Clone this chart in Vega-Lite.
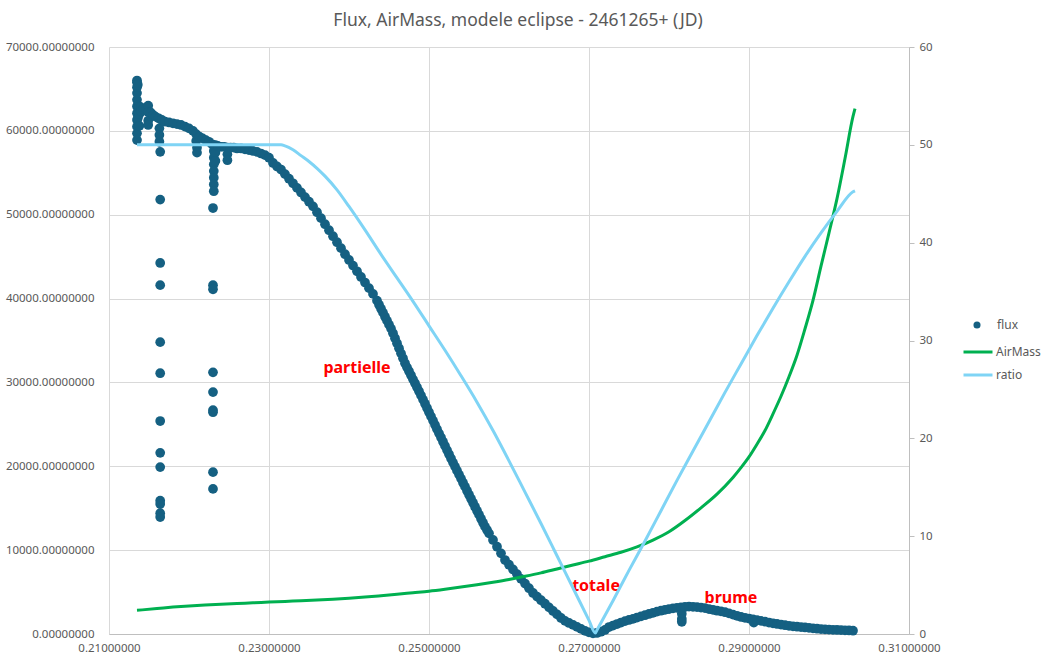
{
  "$schema": "https://vega.github.io/schema/vega-lite/v6.json",
  "width": 800,
  "height": 587,
  "autosize": {"type": "none"},
  "padding": {"left": 109, "top": 47, "right": 136, "bottom": 28},
  "background": "white",
  "title": {"text": "Flux, AirMass, modele eclipse - 2461265+ (JD)", "font": "Noto Sans", "fontSize": 17.5, "fontWeight": "normal", "color": "#595959", "frame": "group", "anchor": "middle", "offset": 12, "dx": 9},
  "config": {"view": {"stroke": null}, "font": "Noto Sans"},
  "datasets": {
    "flux": [
      {"x":0.2135,"flux":58900},{"x":0.2135,"flux":59700},{"x":0.2135,"flux":60500},{"x":0.2135,"flux":61300},{"x":0.2135,"flux":62100},{"x":0.2135,"flux":62900},{"x":0.2135,"flux":63700},{"x":0.2135,"flux":64500},{"x":0.2135,"flux":65200},{"x":0.2135,"flux":65800},{"x":0.2135,"flux":66000},
      {"x":0.2136,"flux":65500},{"x":0.2136,"flux":63000},{"x":0.2136,"flux":61500},
      {"x":0.2138,"flux":62900},{"x":0.2138,"flux":62000},{"x":0.2138,"flux":60600},
      {"x":0.2140,"flux":62800},{"x":0.2140,"flux":62300},{"x":0.2143,"flux":62600},{"x":0.2146,"flux":62700},
      {"x":0.2149,"flux":63000},{"x":0.2149,"flux":62200},{"x":0.2149,"flux":61200},{"x":0.2149,"flux":60700},
      {"x":0.2152,"flux":62200},{"x":0.2155,"flux":61900},{"x":0.2158,"flux":61700},
      {"x":0.2162,"flux":61500},{"x":0.2163,"flux":60300},{"x":0.2163,"flux":59500},{"x":0.2163,"flux":58700},
      {"x":0.2164,"flux":57500},{"x":0.2164,"flux":51800},{"x":0.2164,"flux":44250},{"x":0.2164,"flux":41600},{"x":0.2164,"flux":34800},{"x":0.2164,"flux":31100},{"x":0.2164,"flux":25400},{"x":0.2164,"flux":21600},{"x":0.2164,"flux":19900},{"x":0.2164,"flux":15900},{"x":0.2164,"flux":15500},{"x":0.2164,"flux":14400},{"x":0.2164,"flux":13950},
      {"x":0.2166,"flux":61300},{"x":0.2170,"flux":61100},{"x":0.2175,"flux":61000},{"x":0.2180,"flux":60900},{"x":0.2185,"flux":60800},{"x":0.2190,"flux":60700},{"x":0.2195,"flux":60500},{"x":0.2200,"flux":60300},{"x":0.2205,"flux":60000},
      {"x":0.2209,"flux":59600},{"x":0.2209,"flux":58800},{"x":0.2210,"flux":58000},{"x":0.2210,"flux":57400},
      {"x":0.2213,"flux":59300},{"x":0.2217,"flux":59100},{"x":0.2221,"flux":58900},{"x":0.2225,"flux":58700},{"x":0.2229,"flux":58400},
      {"x":0.2231,"flux":57600},{"x":0.2231,"flux":56800},{"x":0.2231,"flux":56000},{"x":0.2231,"flux":55200},{"x":0.2231,"flux":54400},{"x":0.2231,"flux":53600},{"x":0.2231,"flux":52800},
      {"x":0.2230,"flux":50800},{"x":0.2230,"flux":41600},{"x":0.2230,"flux":41100},{"x":0.2230,"flux":31200},{"x":0.2230,"flux":28850},{"x":0.2230,"flux":26700},{"x":0.2230,"flux":26450},{"x":0.2230,"flux":19300},{"x":0.2230,"flux":17300},
      {"x":0.2233,"flux":58300},{"x":0.2233,"flux":57400},{"x":0.2233,"flux":56400},
      {"x":0.2236,"flux":58200},{"x":0.2240,"flux":58100},{"x":0.2244,"flux":58100},
      {"x":0.2248,"flux":58000},{"x":0.2248,"flux":57200},{"x":0.2248,"flux":56500},
      {"x":0.2252,"flux":58000},{"x":0.2256,"flux":58000},{"x":0.2260,"flux":57900},{"x":0.2265,"flux":57900},{"x":0.2270,"flux":57800},{"x":0.2275,"flux":57700},{"x":0.2280,"flux":57600},{"x":0.2285,"flux":57500},{"x":0.2290,"flux":57300},{"x":0.2295,"flux":57100},
      {"x":0.2300,"flux":56800},{"x":0.2305,"flux":56170},{"x":0.2310,"flux":55750},{"x":0.2315,"flux":55390},{"x":0.2320,"flux":54840},{"x":0.2325,"flux":54290},{"x":0.2330,"flux":53750},{"x":0.2335,"flux":53200},{"x":0.2340,"flux":52650},{"x":0.2345,"flux":52100},{"x":0.2350,"flux":51550},{"x":0.2355,"flux":51000},{"x":0.2360,"flux":50300},{"x":0.2365,"flux":49590},{"x":0.2370,"flux":48870},{"x":0.2375,"flux":48150},{"x":0.2380,"flux":47440},{"x":0.2385,"flux":46720},{"x":0.2390,"flux":46010},{"x":0.2395,"flux":45290},
      {"x":0.2400,"flux":44600},{"x":0.2405,"flux":43930},{"x":0.2410,"flux":43250},{"x":0.2415,"flux":42580},{"x":0.2420,"flux":41910},{"x":0.2425,"flux":41240},{"x":0.2430,"flux":40560},
      {"x":0.2435,"flux":39750},{"x":0.24375,"flux":39270},{"x":0.2440,"flux":38790},{"x":0.24425,"flux":38320},{"x":0.2445,"flux":37840},{"x":0.24475,"flux":37370},{"x":0.2450,"flux":36890},{"x":0.24525,"flux":36420},{"x":0.2455,"flux":35860},{"x":0.24575,"flux":35260},{"x":0.2460,"flux":34670},{"x":0.24625,"flux":34070},{"x":0.2465,"flux":33470},{"x":0.24675,"flux":32880},{"x":0.2470,"flux":32280},{"x":0.24725,"flux":31800},{"x":0.2475,"flux":31330},{"x":0.24775,"flux":30850},{"x":0.2480,"flux":30370},{"x":0.24825,"flux":29900},{"x":0.2485,"flux":29420},{"x":0.24875,"flux":28940},{"x":0.2490,"flux":28450},{"x":0.24925,"flux":27950},{"x":0.2495,"flux":27450},{"x":0.24975,"flux":26950},{"x":0.2500,"flux":26450},{"x":0.25025,"flux":25950},{"x":0.2505,"flux":25450},{"x":0.25075,"flux":24940},{"x":0.2510,"flux":24430},{"x":0.25125,"flux":23930},{"x":0.2515,"flux":23430},{"x":0.25175,"flux":22930},{"x":0.2520,"flux":22430},{"x":0.25225,"flux":21930},{"x":0.2525,"flux":21430},{"x":0.25275,"flux":20930},{"x":0.2530,"flux":20440},{"x":0.25325,"flux":19960},{"x":0.2535,"flux":19480},{"x":0.25375,"flux":19010},{"x":0.2540,"flux":18530},{"x":0.25425,"flux":18040},{"x":0.2545,"flux":17570},{"x":0.25475,"flux":17090},{"x":0.2550,"flux":16610},{"x":0.25525,"flux":16130},{"x":0.2555,"flux":15660},{"x":0.25575,"flux":15180},{"x":0.2560,"flux":14700},{"x":0.25625,"flux":14230},{"x":0.2565,"flux":13750},{"x":0.25675,"flux":13270},{"x":0.2570,"flux":12800},{"x":0.25725,"flux":12400},{"x":0.2575,"flux":12000},
      {"x":0.2580,"flux":11210},{"x":0.2585,"flux":10410},{"x":0.2590,"flux":9620},{"x":0.2595,"flux":8820},{"x":0.2600,"flux":8260},{"x":0.2605,"flux":7700},{"x":0.2610,"flux":7140},{"x":0.2615,"flux":6580},{"x":0.2620,"flux":6020},{"x":0.2625,"flux":5460},{"x":0.2630,"flux":4890},{"x":0.2635,"flux":4460},{"x":0.2640,"flux":4030},{"x":0.2645,"flux":3610},{"x":0.2650,"flux":3180},{"x":0.2655,"flux":2750},{"x":0.2660,"flux":2340},{"x":0.2665,"flux":1910},{"x":0.2670,"flux":1560},{"x":0.2675,"flux":1320},{"x":0.2680,"flux":1090},{"x":0.2685,"flux":850},{"x":0.2690,"flux":610},{"x":0.2695,"flux":370},{"x":0.2700,"flux":200},{"x":0.2705,"flux":80},
      {"x":0.2710,"flux":120},{"x":0.2715,"flux":270},{"x":0.2720,"flux":480},{"x":0.2725,"flux":830},{"x":0.2730,"flux":1010},{"x":0.2735,"flux":1190},{"x":0.2740,"flux":1370},{"x":0.2745,"flux":1530},{"x":0.2750,"flux":1670},{"x":0.2755,"flux":1810},{"x":0.2760,"flux":1960},{"x":0.2765,"flux":2100},{"x":0.2770,"flux":2240},{"x":0.2775,"flux":2390},{"x":0.2780,"flux":2530},{"x":0.2785,"flux":2670},{"x":0.2790,"flux":2780},{"x":0.2795,"flux":2890},{"x":0.2800,"flux":2980},{"x":0.2805,"flux":3060},{"x":0.2810,"flux":3120},{"x":0.2815,"flux":3170},{"x":0.2816,"flux":2400},{"x":0.2816,"flux":1800},{"x":0.2816,"flux":1450},{"x":0.2820,"flux":3220},{"x":0.2825,"flux":3260},{"x":0.2830,"flux":3240},{"x":0.2835,"flux":3200},{"x":0.2840,"flux":3140},{"x":0.2845,"flux":3080},{"x":0.2850,"flux":2980},{"x":0.2855,"flux":2890},{"x":0.2860,"flux":2780},{"x":0.2865,"flux":2700},{"x":0.2870,"flux":2600},{"x":0.2875,"flux":2460},{"x":0.2880,"flux":2310},{"x":0.2885,"flux":2170},{"x":0.2890,"flux":2030},{"x":0.2895,"flux":1930},{"x":0.2900,"flux":1840},{"x":0.2905,"flux":1740},{"x":0.2906,"flux":1350},{"x":0.2910,"flux":1660},{"x":0.2915,"flux":1560},{"x":0.2920,"flux":1470},{"x":0.2925,"flux":1370},{"x":0.2930,"flux":1280},{"x":0.2935,"flux":1200},{"x":0.2940,"flux":1120},{"x":0.2945,"flux":1050},{"x":0.2950,"flux":980},{"x":0.2955,"flux":920},{"x":0.2960,"flux":870},{"x":0.2965,"flux":820},{"x":0.2970,"flux":780},{"x":0.2975,"flux":730},{"x":0.2980,"flux":680},{"x":0.2985,"flux":630},{"x":0.2990,"flux":580},{"x":0.2995,"flux":550},{"x":0.3000,"flux":520},{"x":0.3005,"flux":500},{"x":0.3010,"flux":480},{"x":0.3015,"flux":470},{"x":0.3020,"flux":440},{"x":0.3025,"flux":420},{"x":0.3030,"flux":390}
    ],
    "airmass": [
      {"x":0.2135,"v":2.42},{"x":0.2160,"v":2.6},{"x":0.2180,"v":2.75},{"x":0.2200,"v":2.87},{"x":0.2220,"v":2.97},{"x":0.2240,"v":3.05},{"x":0.2260,"v":3.12},{"x":0.2280,"v":3.19},{"x":0.2300,"v":3.26},{"x":0.2320,"v":3.33},{"x":0.2340,"v":3.40},{"x":0.2360,"v":3.47},{"x":0.2380,"v":3.55},{"x":0.2400,"v":3.65},{"x":0.2420,"v":3.77},{"x":0.2440,"v":3.91},{"x":0.2460,"v":4.06},{"x":0.2480,"v":4.22},{"x":0.2500,"v":4.38},{"x":0.2520,"v":4.58},{"x":0.2540,"v":4.80},{"x":0.2560,"v":5.04},{"x":0.2580,"v":5.30},{"x":0.2600,"v":5.58},{"x":0.2620,"v":5.90},{"x":0.2640,"v":6.25},{"x":0.2660,"v":6.65},{"x":0.2680,"v":7.05},{"x":0.2700,"v":7.45},{"x":0.2720,"v":7.9},{"x":0.2740,"v":8.35},{"x":0.2760,"v":8.9},{"x":0.2780,"v":9.6},{"x":0.2800,"v":10.45},{"x":0.2820,"v":11.6},{"x":0.2840,"v":12.9},{"x":0.2860,"v":14.3},{"x":0.2880,"v":16.0},{"x":0.2890,"v":17.0},{"x":0.2900,"v":18.1},{"x":0.2910,"v":19.4},{"x":0.2920,"v":20.8},{"x":0.2930,"v":22.5},{"x":0.2940,"v":24.3},{"x":0.2950,"v":26.3},{"x":0.2960,"v":28.5},{"x":0.2970,"v":31.2},{"x":0.2980,"v":34.1},{"x":0.2990,"v":37.6},{"x":0.3000,"v":41.0},{"x":0.3010,"v":44.5},{"x":0.3020,"v":48.6},{"x":0.3030,"v":52.9},{"x":0.30325,"v":53.7}
    ],
    "ratio": [
      {"x":0.2135,"v":50},{"x":0.2200,"v":50},{"x":0.2250,"v":50},{"x":0.2300,"v":50},{"x":0.2315,"v":50},{"x":0.2320,"v":49.9},{"x":0.2330,"v":49.5},{"x":0.2340,"v":48.9},{"x":0.2350,"v":48.3},{"x":0.2360,"v":47.6},{"x":0.2370,"v":46.8},{"x":0.2385,"v":45.4},{"x":0.2400,"v":43.7},{"x":0.2420,"v":41.3},{"x":0.2440,"v":38.8},{"x":0.2460,"v":36.4},{"x":0.2480,"v":34.0},{"x":0.2500,"v":31.5},{"x":0.2520,"v":29.0},{"x":0.2540,"v":26.4},{"x":0.2560,"v":23.7},{"x":0.2580,"v":20.8},{"x":0.2600,"v":17.7},{"x":0.2620,"v":14.5},{"x":0.2640,"v":11.3},{"x":0.2660,"v":8.0},{"x":0.2680,"v":4.7},{"x":0.2700,"v":1.4},{"x":0.2708,"v":0.1},{"x":0.2710,"v":0.4},{"x":0.2730,"v":3.4},{"x":0.2750,"v":6.5},{"x":0.2770,"v":9.5},{"x":0.2790,"v":12.6},{"x":0.2810,"v":15.7},{"x":0.2830,"v":18.7},{"x":0.2850,"v":21.7},{"x":0.2870,"v":24.7},{"x":0.2890,"v":27.6},{"x":0.2910,"v":30.5},{"x":0.2930,"v":33.3},{"x":0.2950,"v":36.0},{"x":0.2970,"v":38.6},{"x":0.2990,"v":41.0},{"x":0.3010,"v":43.2},{"x":0.3030,"v":45.2},{"x":0.30325,"v":45.3}
    ],
    "notes": [
      {"x":0.2410,"flux":31700,"label":"partielle"},
      {"x":0.27088,"flux":5720,"label":"totale"},
      {"x":0.28775,"flux":4290,"label":"brume"}
    ]
  },
  "encoding": {
    "x": {"field": "x", "type": "quantitative",
      "scale": {"domain": [0.21, 0.31], "nice": false, "zero": false},
      "axis": {"values": [0.21, 0.23, 0.25, 0.27, 0.29, 0.31], "format": ".8f", "title": null, "grid": true, "gridColor": "#d9d9d9", "ticks": false, "domainColor": "#bfbfbf", "labelColor": "#595959", "labelFontSize": 11.5, "labelFont": "Noto Sans", "labelPadding": 8, "labelFlush": false, "labelOverlap": false}}
  },
  "layer": [
    {
      "layer": [
        {
          "data": {"name": "flux"},
          "mark": {"type": "circle", "size": 95, "opacity": 1},
          "encoding": {
            "y": {"field": "flux", "type": "quantitative",
              "scale": {"domain": [0, 70000], "nice": false},
              "axis": {"values": [0, 10000, 20000, 30000, 40000, 50000, 60000, 70000], "format": ".8f", "title": null, "grid": true, "gridColor": "#d9d9d9", "ticks": false, "domain": false, "labelColor": "#595959", "labelFontSize": 11.5, "labelFont": "Noto Sans", "labelPadding": 15}},
            "fill": {"datum": "flux", "type": "nominal",
              "scale": {"domain": ["flux"], "range": ["#156082"]},
              "legend": {"orient": "none", "legendX": 862, "legendY": 272, "title": null, "symbolType": "circle", "symbolSize": 50, "labelOffset": 14, "padding": 0, "labelColor": "#595959", "labelFontSize": 12, "labelFont": "Noto Sans"}}
          }
        },
        {
          "data": {"name": "notes"},
          "mark": {"type": "text", "color": "#ff0000", "fontWeight": "bold", "fontSize": 16, "font": "Noto Sans", "align": "center", "baseline": "middle"},
          "encoding": {
            "y": {"field": "flux", "type": "quantitative"},
            "text": {"field": "label", "type": "nominal"}
          }
        }
      ]
    },
    {
      "layer": [
        {
          "data": {"name": "airmass"},
          "mark": {"type": "line", "strokeWidth": 3, "interpolate": "monotone"},
          "encoding": {
            "y": {"field": "v", "type": "quantitative",
              "scale": {"domain": [0, 60], "nice": false},
              "axis": {"orient": "right", "values": [0, 10, 20, 30, 40, 50, 60], "title": null, "grid": false, "ticks": true, "tickSize": 5, "tickColor": "#bfbfbf", "domainColor": "#bfbfbf", "labelColor": "#595959", "labelFontSize": 11.5, "labelFont": "Noto Sans", "labelPadding": 5}},
            "stroke": {"datum": "AirMass", "type": "nominal",
              "scale": {"domain": ["AirMass", "ratio"], "range": ["#00b050", "#7fd4f5"]},
              "legend": {"orient": "none", "legendX": 853, "legendY": 289, "title": null, "symbolType": "stroke", "symbolSize": 841, "symbolStrokeWidth": 3, "labelOffset": 2, "padding": 0, "rowPadding": 1, "labelColor": "#595959", "labelFontSize": 12, "labelFont": "Noto Sans"}}
          }
        },
        {
          "data": {"name": "ratio"},
          "mark": {"type": "line", "strokeWidth": 3, "interpolate": "monotone"},
          "encoding": {
            "y": {"field": "v", "type": "quantitative"},
            "stroke": {"datum": "ratio", "type": "nominal"}
          }
        }
      ]
    }
  ],
  "resolve": {"scale": {"y": "independent"}}
}
